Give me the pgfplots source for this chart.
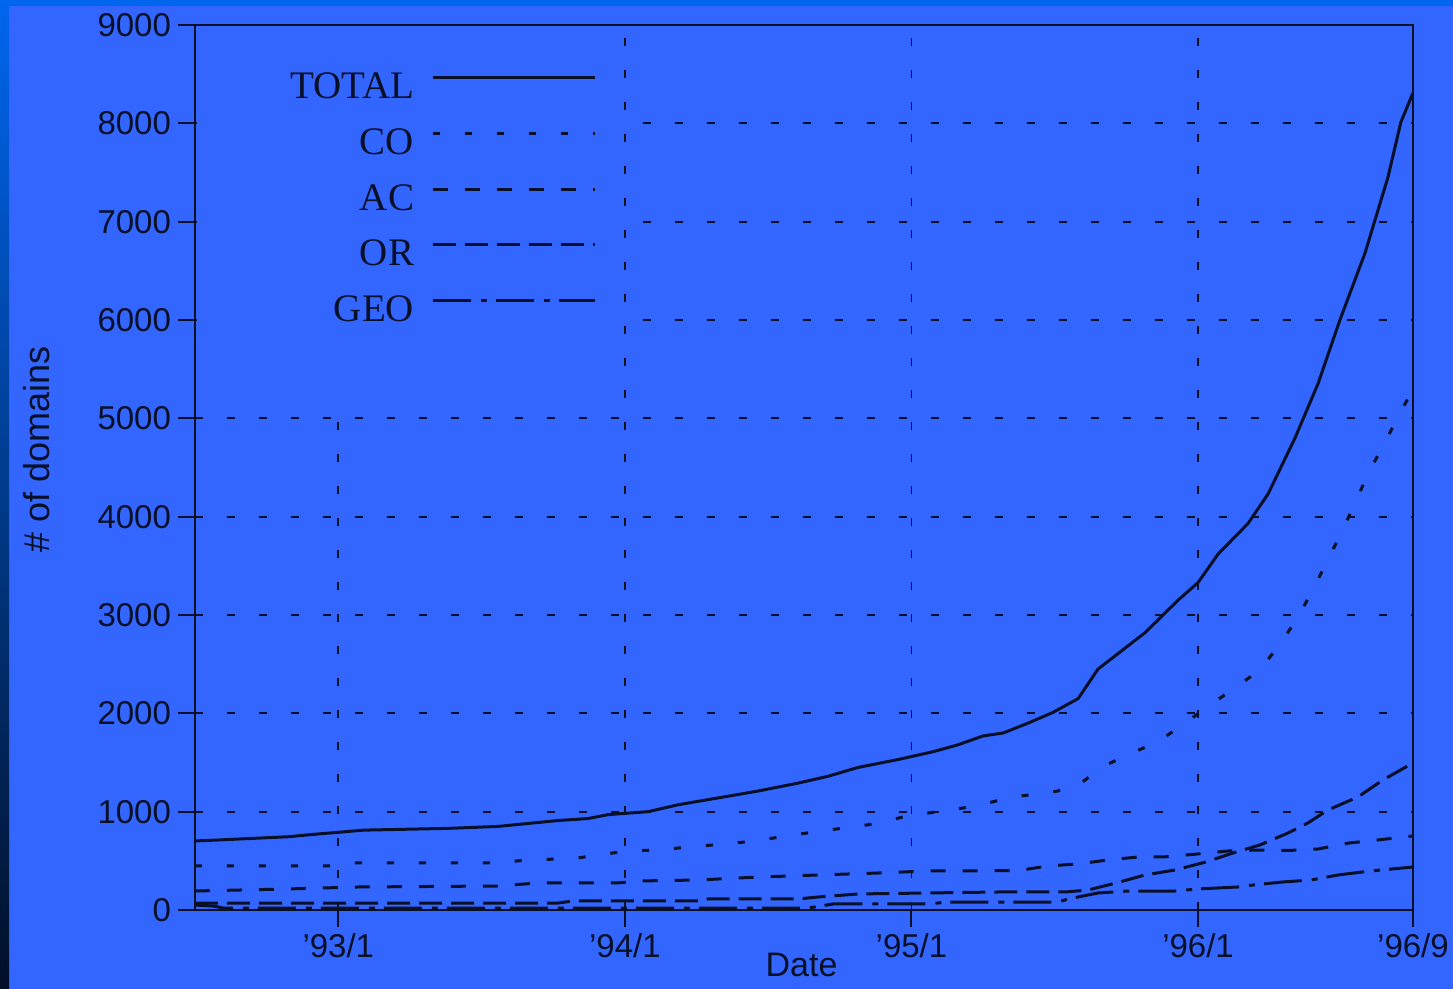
\documentclass[border=0pt]{standalone}
\usepackage{fontspec}
\setmainfont{Liberation Sans}
\newfontfamily\seriffont{Liberation Serif}
\usepackage{pgfplots}
\pgfplotsset{compat=1.18}
\definecolor{bgblue}{RGB}{51,102,255}
\definecolor{ink}{RGB}{8,16,40}
\definecolor{stripblue}{RGB}{0,102,238}
\definecolor{midblue}{RGB}{0,80,200}
\definecolor{darknavy}{RGB}{0,15,40}
\begin{document}
\begin{tikzpicture}[x=1pt,y=1pt]
\useasboundingbox (0,0) rectangle (726.5,494.5);
\fill[bgblue] (0,0) rectangle (726.5,494.5);
\fill[stripblue] (0,491.5) rectangle (726.5,494.5);
\shade[top color=stripblue, middle color=midblue, bottom color=darknavy] (0,0) rectangle (4.5,494.5);
\begin{axis}[
  at={(97.5pt,39.5pt)}, anchor=south west,
  scale only axis, width=609pt, height=442.5pt,
  xmin=-6, xmax=45, ymin=0, ymax=9000,
  xtick={0,12,24,36,45},
  xticklabels={’93/1,’94/1,’95/1,’96/1,’96/9},
  ytick={0,1000,...,9000},
  grid=major,
  major grid style={ink, line width=0.9pt, dash pattern=on 4pt off 12pt},
  axis line style={ink, line width=1pt},
  tick pos=left, tick align=outside, major tick length=8.5pt,
  tick style={ink, line width=1pt},
  ticklabel style={font=\fontsize{16.5}{18}\selectfont, text=ink},
  /pgf/number format/assume math mode=true,
  /pgf/number format/set thousands separator={},
  xlabel={Date}, ylabel={\# of domains},
  xlabel style={at={(axis description cs:0.498,-0.062)}, anchor=center, font=\fontsize{17}{18}\selectfont, text=ink},
  ylabel style={at={(axis description cs:-0.13,0.52)}, anchor=center, font=\fontsize{18}{19}\selectfont, text=ink},
  legend plot pos=right,
  legend cell align=right,
  legend style={draw=none, fill=none, at={(axis description cs:0.3345,0.951)}, anchor=north east,
    font=\seriffont\fontsize{19.5}{20}\selectfont, text=ink,
    nodes={inner sep=0pt, text height=13pt, text depth=0pt},
    row sep=14.85pt, /tikz/column 1/.style={column sep=8.5pt}},
  legend image code/.code={\draw[#1] (0pt,4pt) -- (81pt,4pt);},
  every axis plot/.append style={ink, line width=1.5pt},
]
\fill[bgblue] (axis cs:-5.93,5050) rectangle (axis cs:11.85,8980);
% TOTAL
\addplot[solid] coordinates {
(-6,702) (-5.02,712) (-2.09,745) (-1.00,770) (0,790) (1.05,812) (4.60,830) (6.70,850)
(7.95,880) (9.21,910) (10.46,930) (11.30,970) (12.98,1000) (14.23,1070) (15.91,1140)
(17.58,1210) (19.25,1290) (20.51,1360) (21.77,1450) (23.44,1530) (24.91,1610) (25.95,1680)
(27.00,1770) (27.84,1800) (28.88,1900) (29.93,2010) (30.98,2150) (31.81,2450) (33.78,2820)
(35.16,3150) (36.00,3330) (36.84,3620) (38.09,3930) (38.93,4230) (40.06,4800) (41.02,5350)
(41.94,6000) (42.99,6680) (43.95,7450) (44.49,8010) (45,8310)
};
\addlegendentry{TOTAL}
% CO
\addplot[dash pattern=on 3.5pt off 12.5pt] coordinates {
(-6,448) (-0.42,448) (0.63,478) (6.70,478) (7.53,500) (10.05,530) (10.88,560) (12.14,600)
(13.39,610) (14.65,640) (16.12,670) (17.37,700) (19.25,770) (21.35,840) (22.60,880)
(23.86,960) (25.12,1000) (26.79,1060) (28.17,1150) (29.72,1190) (30.89,1250) (31.98,1455)
(33.07,1580) (34.32,1710) (35.45,1900) (36.42,2070) (37.55,2260) (38.59,2440) (39.35,2680)
(40.18,2970) (41.02,3360) (42.07,3870) (43.11,4430) (44.24,4950) (45,5300)
};
\addlegendentry{CO}
% AC
\addplot[dash pattern=on 7.5pt off 8.5pt] coordinates {
(-6,193) (-2.09,214) (0.84,234) (6.70,244) (8.37,275) (11.72,275) (12.56,295) (15.07,305)
(17.58,335) (20.09,356) (22.60,376) (24.70,397) (28.46,400) (29.72,448) (30.98,468)
(32.23,509) (33.49,539) (34.53,539) (36.00,570) (37.25,600) (38.51,610) (39.77,605)
(41.02,620) (42.28,680) (43.53,712) (45,753)
};
\addlegendentry{AC}
% OR
\addplot[dash pattern=on 11.5pt off 4.5pt] coordinates {
(-6,71) (9.21,71) (9.84,92) (15.07,92) (15.49,112) (19.25,112) (20.09,132) (21.77,163)
(27.63,183) (30.43,183) (31.39,203) (32.57,275) (33.78,356) (35.04,407) (36.33,488)
(37.46,580) (38.59,661) (39.77,783) (40.60,885) (41.44,1017) (42.70,1150) (43.74,1322)
(45,1495)
};
\addlegendentry{OR}
% GEO
\addplot[dash pattern=on 19pt off 5pt on 3pt off 4.5pt] coordinates {
(-6,50) (-5.23,40) (-4.81,20) (19.67,20) (20.72,61) (24.70,61) (25.53,81) (30.14,81)
(30.56,112) (31.81,173) (33.07,193) (35.04,193) (36.00,214) (37.67,234) (38.30,254)
(39.56,285) (40.73,305) (41.86,356) (43.24,397) (45,437)
};
\addlegendentry{GEO}
\end{axis}
\end{tikzpicture}
\end{document}
